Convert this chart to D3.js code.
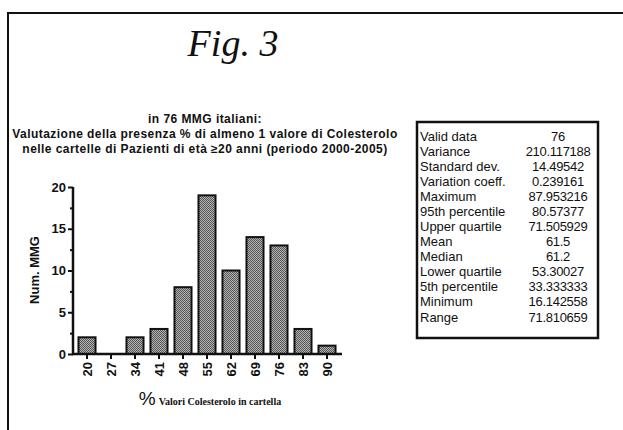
<!DOCTYPE html>
<html>
<head>
<meta charset="utf-8">
<script src="https://cdn.jsdelivr.net/npm/d3@7"></script>
<style>
  body { margin: 0; background: #fff; }
  svg { display: block; }
</style>
</head>
<body>
<div id="chart"></div>
<script>
// histogram data
var bins = ["20", "27", "34", "41", "48", "55", "62", "69", "76", "83", "90"];
var counts = [2, 0, 2, 3, 8, 19, 10, 14, 13, 3, 1];
var yTicks = [0, 5, 10, 15, 20];

// descriptive statistics table
var statLabels = ["Valid data", "Variance", "Standard dev.", "Variation coeff.", "Maximum",
  "95th percentile", "Upper quartile", "Mean", "Median", "Lower quartile",
  "5th percentile", "Minimum", "Range"];
var statValues = ["76", "210.117188", "14.49542", "0.239161", "87.953216",
  "80.57377", "71.505929", "61.5", "61.2", "53.30027",
  "33.333333", "16.142558", "71.810659"];

var titleLines = [
  "in 76 MMG italiani:",
  "Valutazione della presenza % di almeno 1 valore di Colesterolo",
  "nelle cartelle di Pazienti di età ≥20 anni (periodo 2000-2005)"
];

var W = 623, H = 430;
var svg = d3.select("#chart").append("svg")
  .attr("width", W)
  .attr("height", H);

// gray dotted fill like the old stat package
var defs = svg.append("defs");
var pat = defs.append("pattern")
  .attr("id", "dots")
  .attr("patternUnits", "userSpaceOnUse")
  .attr("width", 2).attr("height", 2);
pat.append("rect").attr("width", 2).attr("height", 2).attr("fill", "#b4b4b4");
pat.append("rect").attr("width", 1).attr("height", 1).attr("fill", "#555");
pat.append("rect").attr("x", 1).attr("y", 1).attr("width", 1).attr("height", 1).attr("fill", "#555");

// outer frame (cut off at right and bottom)
svg.append("rect")
  .attr("x", 8).attr("y", 13)
  .attr("width", 640).attr("height", 440)
  .attr("fill", "none")
  .attr("stroke", "#111")
  .attr("stroke-width", 2);

svg.append("text")
  .attr("x", 233).attr("y", 56)
  .attr("text-anchor", "middle")
  .style("font-family", "'Liberation Serif', serif")
  .style("font-style", "italic")
  .style("font-size", "38px")
  .attr("fill", "#111")
  .text("Fig. 3");

svg.selectAll(".title")
  .data(titleLines)
  .enter().append("text")
  .attr("class", "title")
  .attr("x", 205)
  .attr("y", function(d, i) { return 123 + i * 15; })
  .attr("text-anchor", "middle")
  .style("font-family", "'Liberation Sans', Arial, sans-serif")
  .style("font-weight", "bold")
  .style("font-size", "12px")
  .style("letter-spacing", "0.45px")
  .attr("fill", "#111")
  .text(function(d) { return d; });

// scales
var x = d3.scaleBand()
  .domain(bins)
  .range([75, 339])
  .paddingInner(0.29)
  .paddingOuter(0.145);

var y = d3.scaleLinear()
  .domain([0, 20])
  .range([354, 187]);

var g = svg.append("g");

// bars
g.selectAll(".bar")
  .data(counts)
  .enter().append("rect")
  .attr("class", "bar")
  .attr("x", function(d, i) { return x(bins[i]); })
  .attr("width", x.bandwidth())
  .attr("y", function(d) { return y(d); })
  .attr("height", function(d) { return y(0) - y(d); })
  .attr("fill", "url(#dots)")
  .attr("stroke", "#111")
  .attr("stroke-width", 2)
  .style("display", function(d) { return d > 0 ? null : "none"; });

// y axis
var yAxis = g.append("g")
  .attr("transform", "translate(73,0)")
  .call(d3.axisLeft(y).tickValues(yTicks).tickSize(5).tickPadding(2));
yAxis.select(".domain").attr("stroke", "#111").attr("stroke-width", 2.5)
  .attr("d", "M0," + y(20) + "V" + y(0));
yAxis.selectAll(".tick line").attr("stroke", "#111").attr("stroke-width", 2);
yAxis.selectAll(".tick text")
  .style("font-family", "'Liberation Sans', Arial, sans-serif")
  .style("font-weight", "bold")
  .style("font-size", "13px")
  .attr("fill", "#111");

// minor ticks halfway between labels
g.append("g")
  .attr("transform", "translate(73,0)")
  .call(d3.axisLeft(y).tickValues([2.5, 7.5, 12.5, 17.5]).tickSize(3).tickFormat(""))
  .call(function(s) {
    s.select(".domain").remove();
    s.selectAll(".tick line").attr("stroke", "#111").attr("stroke-width", 2);
  });

// x axis
var xAxis = g.append("g")
  .attr("transform", "translate(0," + y(0) + ")")
  .call(d3.axisBottom(x).tickSize(5).tickPadding(3));
xAxis.select(".domain").attr("stroke", "#111").attr("stroke-width", 2.5)
  .attr("d", "M72,0H342");
xAxis.selectAll(".tick line").attr("stroke", "#111").attr("stroke-width", 2);
xAxis.selectAll(".tick text")
  .attr("transform", "rotate(-90)")
  .attr("text-anchor", "end")
  .attr("x", -8)
  .attr("y", 0)
  .attr("dy", "0.35em")
  .style("font-family", "'Liberation Sans', Arial, sans-serif")
  .style("font-weight", "bold")
  .style("font-size", "13px")
  .attr("fill", "#111");

// axis titles
svg.append("text")
  .attr("transform", "translate(39,270) rotate(-90)")
  .attr("text-anchor", "middle")
  .style("font-family", "'Liberation Sans', Arial, sans-serif")
  .style("font-weight", "bold")
  .style("font-size", "13px")
  .attr("fill", "#111")
  .text("Num. MMG");

var xl = svg.append("text")
  .attr("x", 210).attr("y", 405)
  .attr("text-anchor", "middle")
  .attr("fill", "#111");
xl.append("tspan")
  .style("font-family", "'Liberation Sans', Arial, sans-serif")
  .style("font-size", "19px")
  .text("%");
xl.append("tspan")
  .attr("dx", 3)
  .style("font-family", "'Liberation Serif', serif")
  .style("font-weight", "bold")
  .style("font-size", "10px")
  .text("Valori Colesterolo  in cartella");

// stats box
var box = svg.append("g").attr("transform", "translate(417,122)");
box.append("rect")
  .attr("width", 181).attr("height", 216)
  .attr("fill", "#fff")
  .attr("stroke", "#111")
  .attr("stroke-width", 2.5);

var rowY = d3.scalePoint()
  .domain(statLabels)
  .range([14, 195]);

box.selectAll(".slabel")
  .data(statLabels)
  .enter().append("text")
  .attr("class", "slabel")
  .attr("x", 3)
  .attr("y", function(d) { return rowY(d); })
  .attr("dy", "0.35em")
  .style("font-family", "'Liberation Sans', Arial, sans-serif")
  .style("font-size", "13px")
  .attr("fill", "#111")
  .text(function(d) { return d; });

box.selectAll(".svalue")
  .data(statValues)
  .enter().append("text")
  .attr("class", "svalue")
  .attr("x", 141)
  .attr("y", function(d, i) { return rowY(statLabels[i]); })
  .attr("dy", "0.35em")
  .attr("text-anchor", "middle")
  .style("font-family", "'Liberation Sans', Arial, sans-serif")
  .style("font-size", "13px")
  .style("letter-spacing", "-0.3px")
  .attr("fill", "#111")
  .text(function(d) { return d; });
</script>
</body>
</html>
